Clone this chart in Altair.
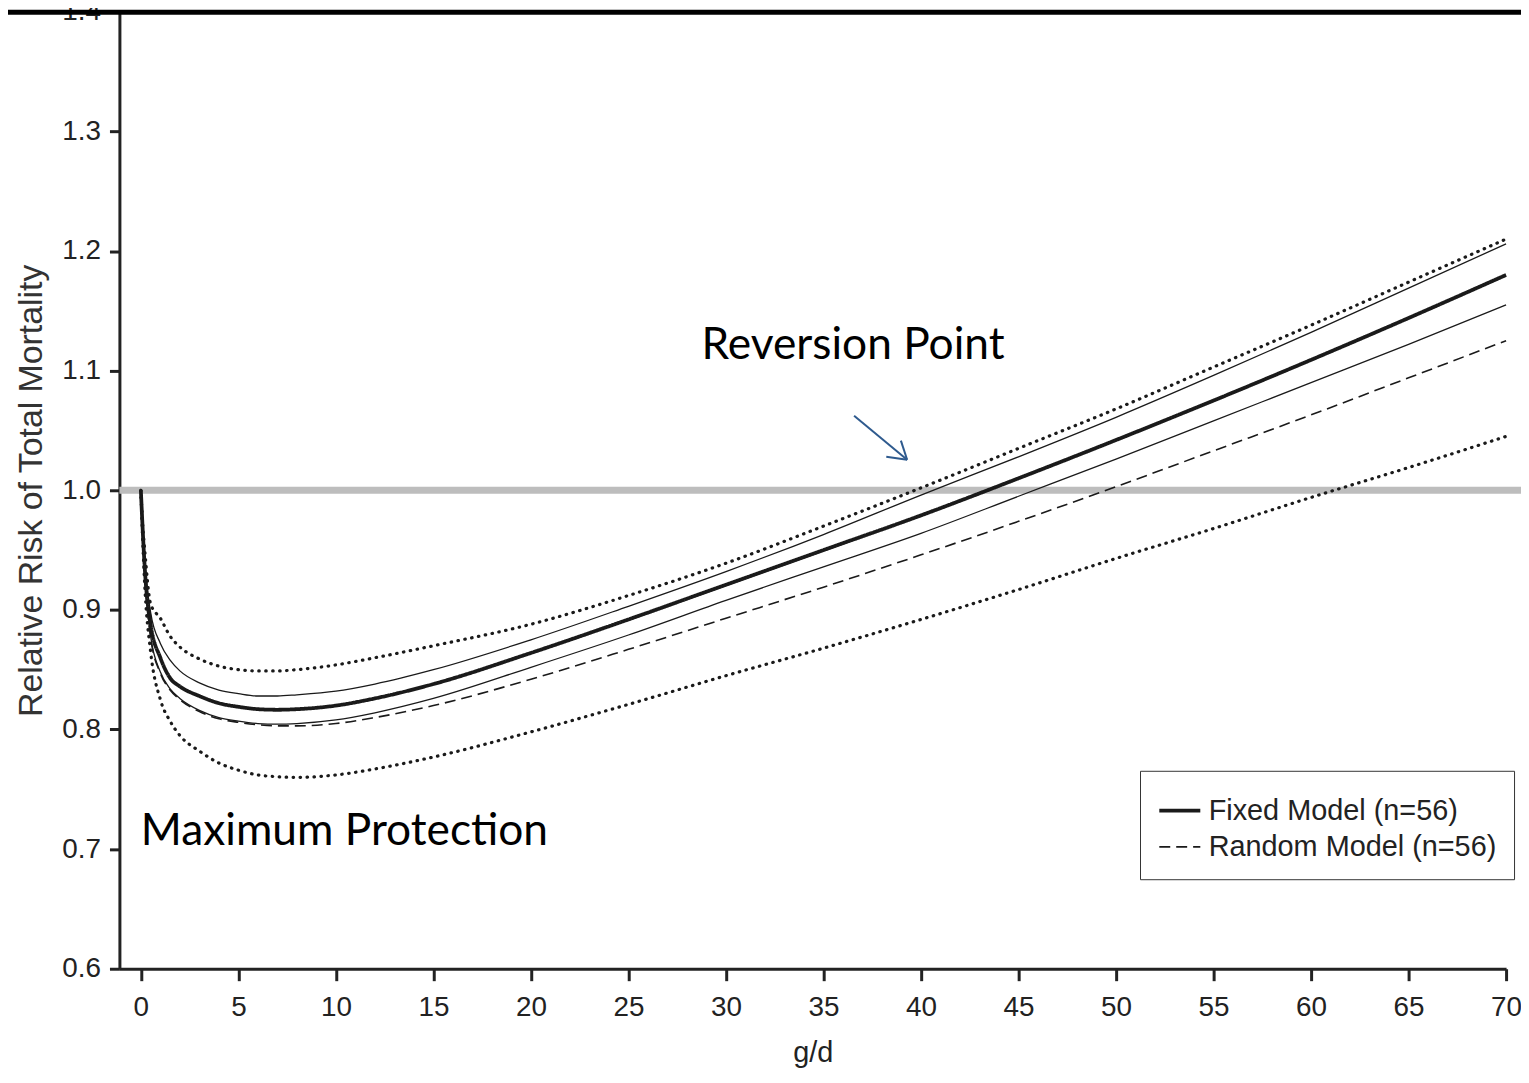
import altair as alt
import pandas as pd

# ---------------- data ----------------
x_vals = [0, 0.1, 0.2, 0.5, 1, 1.5, 2, 3, 4, 5, 6, 7, 8, 10, 12, 15,
          20, 25, 30, 35, 40, 45, 50, 55, 60, 65, 70]

fixed_est = [1.000, 0.965, 0.935, 0.888, 0.860, 0.843, 0.836, 0.828, 0.822, 0.819,
             0.817, 0.8165, 0.817, 0.820, 0.826, 0.838, 0.864, 0.892, 0.921, 0.950,
             0.979, 1.010, 1.042, 1.075, 1.109, 1.144, 1.180]
fixed_hi = [1.000, 0.967, 0.940, 0.898, 0.872, 0.858, 0.849, 0.839, 0.833, 0.830,
            0.828, 0.828, 0.829, 0.832, 0.838, 0.850, 0.875, 0.903, 0.932, 0.963,
            0.996, 1.028, 1.061, 1.096, 1.132, 1.169, 1.206]
fixed_lo = [1.000, 0.962, 0.930, 0.878, 0.848, 0.834, 0.826, 0.816, 0.810, 0.807,
            0.805, 0.8045, 0.805, 0.808, 0.814, 0.826, 0.852, 0.879, 0.908, 0.936,
            0.964, 0.995, 1.026, 1.058, 1.090, 1.122, 1.155]
random_est = [1.000, 0.962, 0.930, 0.877, 0.847, 0.833, 0.825, 0.815, 0.809, 0.806,
              0.804, 0.803, 0.803, 0.805, 0.810, 0.820, 0.842, 0.867, 0.893, 0.919,
              0.946, 0.974, 1.003, 1.033, 1.063, 1.094, 1.125]
random_hi = [1.000, 0.970, 0.950, 0.905, 0.893, 0.878, 0.869, 0.859, 0.853, 0.850,
             0.849, 0.849, 0.850, 0.854, 0.860, 0.870, 0.888, 0.912, 0.939, 0.970,
             1.002, 1.035, 1.068, 1.103, 1.138, 1.174, 1.210]
random_lo = [1.000, 0.955, 0.920, 0.865, 0.825, 0.807, 0.795, 0.782, 0.772, 0.766,
             0.762, 0.7605, 0.760, 0.762, 0.767, 0.777, 0.798, 0.821, 0.845, 0.868,
             0.892, 0.917, 0.943, 0.968, 0.994, 1.019, 1.045]

models = ["Fixed Model (n=56)", "Random Model (n=56)"]

x_ticks = [0, 5, 10, 15, 20, 25, 30, 35, 40, 45, 50, 55, 60, 65, 70]
y_ticks = [0.6, 0.7, 0.8, 0.9, 1.0, 1.1, 1.2, 1.3, 1.4]

ref_value = [1.0]

# annotations
ann_text = ["Maximum Protection", "Reversion Point"]
ann_x = [0.0, 28.75]
ann_y = [0.7035, 1.1097]

# arrow segments (shaft + two head wings)
arrow_x1 = [36.57, 38.22, 38.97]
arrow_y1 = [1.0623, 1.0280, 1.0415]
arrow_x2 = [39.29, 39.29, 39.29]
arrow_y2 = [1.0255, 1.0255, 1.0255]

# ---------------- tables ----------------
central = pd.DataFrame(
    [{"x": xv, "rr": v, "model": models[0]} for xv, v in zip(x_vals, fixed_est)]
    + [{"x": xv, "rr": v, "model": models[1]} for xv, v in zip(x_vals, random_est)]
)
fixed_ci = pd.DataFrame(
    [{"x": xv, "rr": v, "s": "hi"} for xv, v in zip(x_vals, fixed_hi)]
    + [{"x": xv, "rr": v, "s": "lo"} for xv, v in zip(x_vals, fixed_lo)]
)
random_ci = pd.DataFrame(
    [{"x": xv, "rr": v, "s": "hi"} for xv, v in zip(x_vals, random_hi)]
    + [{"x": xv, "rr": v, "s": "lo"} for xv, v in zip(x_vals, random_lo)]
)
ref_df = pd.DataFrame({"rr": ref_value})
ann_df = pd.DataFrame({"x": ann_x, "rr": ann_y, "t": ann_text})
arrow_df = pd.DataFrame({"x": arrow_x1, "rr": arrow_y1, "xe": arrow_x2, "rre": arrow_y2})
band_df = pd.DataFrame({"a": [0]})

# ---------------- styling ----------------
SANS = "Liberation Sans, Arial, Helvetica, sans-serif"
INK = "#1a1a1a"
AXC = "#222222"

W, H = 1394, 962

xscale = alt.Scale(domain=[-1.1, 70], nice=False, zero=False)
yscale = alt.Scale(domain=[0.6, 1.4], nice=False, zero=False)

xaxis = alt.Axis(values=x_ticks, title="g/d", grid=False, labelFlush=False,
                 labelOverlap=False, labelFont=SANS, labelFontSize=28,
                 labelColor=AXC, labelPadding=13, tickSize=12, tickWidth=3,
                 tickColor=AXC, domainWidth=3, domainColor=AXC,
                 titleFont=SANS, titleFontSize=29, titleFontWeight="normal",
                 titleColor=AXC, titlePadding=17)
yaxis = alt.Axis(values=y_ticks, format=".1f", title="Relative Risk of Total Mortality",
                 grid=False, labelFlush=False, labelOverlap=False, labelFont=SANS,
                 labelFontSize=28, labelColor=AXC, labelPadding=9, tickSize=10,
                 tickWidth=3, tickColor=AXC, domainWidth=3, domainColor=AXC,
                 titleFont=SANS, titleFontSize=34, titleFontWeight="normal",
                 titleColor="#333333", titlePadding=13)


def X(field="x"):
    return alt.X(f"{field}:Q", scale=xscale, axis=xaxis)


def Y(field="rr"):
    return alt.Y(f"{field}:Q", scale=yscale, axis=yaxis)


band = alt.Chart(band_df).mark_rect(color="black").encode(
    x=alt.value(-120), x2=alt.value(W + 15), y=alt.value(-2), y2=alt.value(3)
)

ref_rule = alt.Chart(ref_df).mark_rule(color="#bdbdbd", strokeWidth=7).encode(
    y=Y(), x=alt.value(0), x2=alt.value(W + 15)
)

fixed_ci_lines = alt.Chart(fixed_ci).mark_line(
    color=INK, strokeWidth=1.3, interpolate="monotone"
).encode(x=X(), y=Y(), detail="s:N")

random_ci_lines = alt.Chart(random_ci).mark_line(
    color=INK, strokeWidth=3.2, strokeDash=[0.5, 6.5], strokeCap="round",
    interpolate="monotone"
).encode(x=X(), y=Y(), detail="s:N")

leg = alt.Legend(orient="none", legendX=1026, legendY=763, title=None,
                 labelFont=SANS, labelFontSize=29, labelColor=AXC,
                 symbolType="stroke", symbolSize=1700, symbolStrokeColor=INK,
                 strokeColor="#333333", padding=17, labelOffset=6, rowPadding=0,
                 fillColor="white", labelLimit=500)

central_lines = alt.Chart(central).mark_line(
    color=INK, interpolate="monotone"
).encode(
    x=X(), y=Y(),
    strokeDash=alt.StrokeDash("model:N", title=None,
                              scale=alt.Scale(domain=models, range=[[1, 0], [11, 6]]),
                              legend=leg),
    strokeWidth=alt.StrokeWidth("model:N", title=None,
                                scale=alt.Scale(domain=models, range=[3.8, 1.6]),
                                legend=leg),
)

arrow = alt.Chart(arrow_df).mark_rule(color="#2e5a8e", strokeWidth=2).encode(
    x=X(), y=Y(), x2="xe:Q", y2="rre:Q"
)

ann = alt.Chart(ann_df).mark_text(
    align="left", baseline="alphabetic", font="Lato", fontSize=44.5, color="black"
).encode(x=X(), y=Y(), text="t:N")

chart = alt.layer(
    ref_rule, fixed_ci_lines, random_ci_lines, central_lines, arrow, ann, band
).properties(
    width=W, height=H,
    autosize=alt.AutoSizeParams(type="none"),
    padding={"left": 112, "top": 1, "right": 15, "bottom": 104},
    background="white",
).configure_view(stroke=None)

chart.save("out.html", embed_options={"renderer": "svg", "actions": False})
